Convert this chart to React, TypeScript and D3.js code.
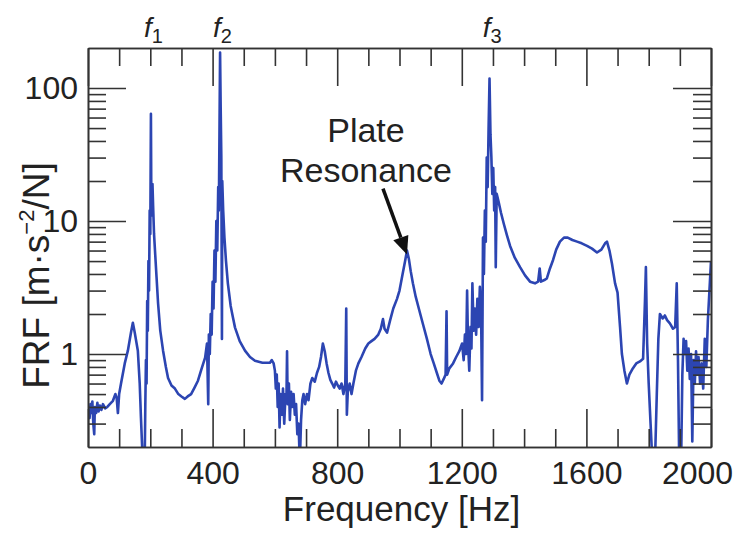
import React, { useEffect, useRef } from 'react';
import * as d3 from 'd3';

const freqHz = [
  0, 5, 8, 11, 14, 17, 20, 22, 26, 30, 34, 38, 43, 48, 55, 62, 70, 80, 88, 92, 96, 100, 106, 118, 128, 138, 144, 150, 160, 166, 170, 176, 182,
  184, 186, 188, 190, 192, 194, 196, 198, 200, 202, 203, 205, 207, 209, 212, 216, 220, 225, 232, 241, 250, 257, 268, 279, 290, 300, 311, 320, 331, 342, 353, 365, 376,
  382, 386, 388, 391, 394, 397, 400, 403, 406, 409, 412, 415, 418, 420, 422, 424, 426, 428, 430, 431, 434, 438, 443, 449, 458, 465, 472, 487, 504, 520, 536, 560, 584,
  590, 596, 600, 603, 606, 609, 612, 615, 618, 622, 626, 630, 634, 637, 639, 641, 645, 648, 652, 656, 660, 664, 668, 672, 676, 680, 684, 688, 692, 697, 703, 708,
  714, 720, 728, 735, 742, 748, 754, 760, 766, 772, 778, 784, 790, 796, 802, 808, 814, 820, 826, 829, 831, 834, 840, 846, 852, 860, 868, 878, 890, 900, 910, 920,
  932, 940, 947, 952, 960, 970, 980, 992, 1000, 1010, 1018, 1024, 1030, 1036, 1043, 1052, 1062, 1075, 1088, 1100, 1110, 1120, 1128, 1135, 1142, 1148, 1151, 1153,
  1160, 1172, 1182, 1192, 1201, 1206, 1210, 1214, 1217, 1220, 1224, 1228, 1231, 1234, 1238, 1242, 1246, 1250, 1254, 1258, 1262, 1265, 1268, 1271, 1274, 1277, 1280,
  1283, 1286, 1289, 1292, 1295, 1298, 1301, 1304, 1307, 1309, 1312, 1318, 1326, 1335, 1345, 1355, 1370, 1387, 1403, 1419, 1435, 1445, 1450, 1454, 1465, 1473, 1483,
  1493, 1503, 1515, 1528, 1540, 1555, 1570, 1585, 1602, 1618, 1634, 1648, 1660, 1666, 1674, 1682, 1692, 1700, 1708, 1714, 1722, 1730, 1738, 1749, 1760, 1772, 1782,
  1788, 1791, 1795, 1800, 1806, 1812, 1820, 1826, 1831, 1836, 1845, 1852, 1859, 1868, 1878, 1885, 1890, 1894, 1898, 1904, 1908, 1912, 1916, 1920, 1924, 1928, 1932,
  1936, 1940, 1944, 1948, 1952, 1956, 1960, 1965, 1970, 1975, 1980, 1985, 1990, 1995, 2000,
];
const frf = [
  0.39, 0.33, 0.42, 0.36, 0.44, 0.3, 0.25, 0.4, 0.36, 0.43, 0.37, 0.41, 0.38, 0.42, 0.39, 0.4, 0.42, 0.445, 0.5, 0.47, 0.36, 0.5, 0.6, 0.85, 1.06, 1.45, 1.72, 1.45, 1.06, 0.6, 0.33, 0.15, 0.15,
  0.42, 0.9, 0.6, 2.5, 1.5, 5, 3, 12, 8, 64, 20, 11, 19, 13, 8, 5.5, 3.8, 2.4, 1.5, 1.06, 0.8, 0.66, 0.58, 0.55, 0.5, 0.48, 0.46, 0.48, 0.5, 0.56, 0.63, 0.78, 0.94,
  1.2, 0.42, 1.4, 1.0, 2.0, 1.4, 3.5, 2.2, 6, 3.5, 10, 6, 18, 12, 45, 185, 70, 30, 1.3, 20, 12, 7.5, 5.0, 3.4, 2.3, 1.9, 1.58, 1.25, 1.06, 0.95, 0.89, 0.86, 0.86,
  0.9, 0.85, 0.75, 0.55, 0.7, 0.4, 0.6, 0.28, 0.5, 0.35, 0.55, 0.3, 0.5, 0.45, 1.05, 0.42, 0.6, 0.32, 0.52, 0.4, 0.5, 0.35, 0.42, 0.25, 0.3, 0.15, 0.32, 0.45, 0.5, 0.42, 0.5, 0.45,
  0.6, 0.66, 0.62, 0.72, 0.8, 0.95, 1.2, 1.05, 0.85, 0.72, 0.64, 0.6, 0.56, 0.62, 0.58, 0.55, 0.6, 0.5, 0.6, 2.2, 0.35, 0.52, 0.6, 0.5, 0.6, 0.75, 0.85, 0.95, 1.1, 1.2, 1.25, 1.3,
  1.4, 1.55, 1.83, 1.55, 1.45, 1.8, 2.2, 2.6, 3.0, 4.0, 5.0, 6.0, 5.2, 4.2, 3.4, 2.7, 2.2, 1.69, 1.3, 1.0, 0.85, 0.72, 0.63, 0.6, 0.65, 0.7, 2.1, 0.7,
  0.78, 0.85, 0.95, 1.05, 1.2, 0.9, 1.4, 1.0, 3.0, 1.2, 0.75, 1.6, 1.1, 3.4, 1.5, 2.2, 1.4, 2.6, 1.6, 3.2, 2.0, 0.45, 7.5, 4, 12, 7, 30,
  18, 50, 118, 45, 30, 16, 25, 12, 18, 4.5, 16, 14, 11.5, 9.5, 7.8, 6.5, 5.3, 4.5, 3.9, 3.5, 3.4, 3.5, 4.4, 3.5, 3.6, 3.7, 4.4,
  5.1, 6.1, 7.0, 7.5, 7.5, 7.2, 7.0, 6.8, 6.5, 6.2, 5.8, 6.1, 6.8, 7.0, 6.0, 4.8, 3.4, 2.9, 1.6, 1.0, 0.75, 0.6, 0.7, 0.78, 0.85, 0.88, 0.92,
  2.5, 4.5, 1.2, 0.6, 0.3, 0.15, 0.15, 0.5, 1.3, 2.0, 1.85, 1.95, 1.8, 1.7, 1.55, 1.6, 3.4, 0.9, 0.15, 0.15, 0.7, 1.3, 1.0, 1.25, 0.75, 1.1, 0.65,
  1.0, 0.22, 0.9, 0.6, 1.05, 0.7, 0.95, 0.6, 0.85, 0.55, 1.3, 0.8, 1.8, 3.0, 5.0,
];

const xTicks = [0, 400, 800, 1200, 1600, 2000];
const xMinorTicks = [100, 200, 300, 500, 600, 700, 900, 1000, 1100, 1300, 1400, 1500, 1700, 1800, 1900];
const yTicks = [1, 10, 100];
const yMinorTicks = [0.3, 0.4, 0.5, 0.6, 0.7, 0.8, 0.9, 2, 3, 4, 5, 6, 7, 8, 9, 20, 30, 40, 50, 60, 70, 80, 90];

// mode labels above the peaks
const modeNames = ['1', '2', '3'];
const modeFreqs = [202, 424, 1290];

// annotated plate resonance
const plateFreq = 1024;
const plateFrf = 5.6;

const FONT = "'Liberation Sans', Arial, Helvetica, sans-serif";

const App = () => {
  const svgRef = useRef<SVGSVGElement>(null);

  useEffect(() => {
    const svg = d3.select(svgRef.current);
    svg.selectAll('*').remove();

    const left = 88, right = 711, top = 48, bottom = 447;
    const major = 38, minor = 18;

    const x = d3.scaleLinear().domain([0, 2000]).range([left, right]);
    const y = d3.scaleLog().domain([0.2, 200]).range([bottom, top]);

    // clip for the trace
    svg.append('defs').append('clipPath').attr('id', 'plot-clip')
      .append('rect')
      .attr('x', left).attr('y', top)
      .attr('width', right - left).attr('height', bottom - top);

    const points = freqHz.map((f, i) => [f, frf[i]] as [number, number]);
    const line = d3.line<[number, number]>()
      .x(d => x(d[0]))
      .y(d => y(Math.max(d[1], 0.12)));

    svg.append('path')
      .datum(points)
      .attr('clip-path', 'url(#plot-clip)')
      .attr('fill', 'none')
      .attr('stroke', '#2c45b2')
      .attr('stroke-width', 2.6)
      .attr('stroke-linejoin', 'round')
      .attr('d', line);

    // axes: ticks point inward on all four sides
    const styleAxis = (g: any) => {
      g.select('.domain').attr('stroke', '#333').attr('stroke-width', 1.6);
      g.selectAll('.tick line').attr('stroke', '#333').attr('stroke-width', 1.6);
      g.selectAll('text')
        .attr('fill', '#222')
        .style('font-family', FONT)
        .style('font-size', '32px');
    };

    const xAxis = svg.append('g')
      .attr('transform', `translate(0,${bottom})`)
      .call(d3.axisBottom(x).tickValues(xTicks).tickSizeInner(-major).tickSizeOuter(0).tickPadding(14).tickFormat(d3.format('d')))
      .call(styleAxis);
    // keep the last label inside the frame, as in the original
    xAxis.selectAll('.tick text').filter((d: any) => d === 2000).attr('dx', -14);

    svg.append('g')
      .attr('transform', `translate(0,${bottom})`)
      .call(d3.axisBottom(x).tickValues(xMinorTicks).tickSizeInner(-minor).tickSizeOuter(0).tickFormat(() => ''))
      .call(styleAxis);
    svg.append('g')
      .attr('transform', `translate(0,${top})`)
      .call(d3.axisTop(x).tickValues(xTicks).tickSizeInner(-major).tickSizeOuter(0).tickFormat(() => ''))
      .call(styleAxis);
    svg.append('g')
      .attr('transform', `translate(0,${top})`)
      .call(d3.axisTop(x).tickValues(xMinorTicks).tickSizeInner(-minor).tickSizeOuter(0).tickFormat(() => ''))
      .call(styleAxis);

    svg.append('g')
      .attr('transform', `translate(${left},0)`)
      .call(d3.axisLeft(y).tickValues(yTicks).tickSizeInner(-major).tickSizeOuter(0).tickPadding(10).tickFormat(d3.format('d')))
      .call(styleAxis);
    svg.append('g')
      .attr('transform', `translate(${left},0)`)
      .call(d3.axisLeft(y).tickValues(yMinorTicks).tickSizeInner(-minor).tickSizeOuter(0).tickFormat(() => ''))
      .call(styleAxis);
    svg.append('g')
      .attr('transform', `translate(${right},0)`)
      .call(d3.axisRight(y).tickValues(yTicks).tickSizeInner(-major).tickSizeOuter(0).tickFormat(() => ''))
      .call(styleAxis);
    svg.append('g')
      .attr('transform', `translate(${right},0)`)
      .call(d3.axisRight(y).tickValues(yMinorTicks).tickSizeInner(-minor).tickSizeOuter(0).tickFormat(() => ''))
      .call(styleAxis);

    // axis titles
    svg.append('text')
      .attr('x', (left + right) / 2 + 2)
      .attr('y', 521)
      .attr('text-anchor', 'middle')
      .attr('fill', '#222')
      .style('font-family', FONT)
      .style('font-size', '35px')
      .text('Frequency [Hz]');

    const yTitle = svg.append('text')
      .attr('transform', `translate(49,${(top + bottom) / 2 + 28}) rotate(-90)`)
      .attr('text-anchor', 'middle')
      .attr('fill', '#222')
      .style('font-family', FONT)
      .style('font-size', '37px');
    yTitle.append('tspan').text('FRF [m·s');
    yTitle.append('tspan').attr('dy', -15).style('font-size', '22px').text('−2');
    yTitle.append('tspan').attr('dy', 15).text('/N]');

    // mode labels f1, f2, f3
    modeNames.forEach((name, i) => {
      const t = svg.append('text')
        .attr('x', x(modeFreqs[i]) - 7)
        .attr('y', 37)
        .attr('fill', '#222')
        .style('font-family', FONT)
        .style('font-size', '28px')
        .style('font-style', 'italic');
      t.append('tspan').text('f');
      t.append('tspan').attr('dy', 6).style('font-size', '20px').style('font-style', 'normal').text(name);
    });

    // plate resonance annotation
    const tipX = x(plateFreq);
    const tipY = y(plateFrf);
    svg.append('text')
      .attr('x', tipX - 41)
      .attr('y', 142)
      .attr('text-anchor', 'middle')
      .attr('fill', '#222')
      .style('font-family', FONT)
      .style('font-size', '34px')
      .text('Plate');
    svg.append('text')
      .attr('x', tipX - 41)
      .attr('y', 182)
      .attr('text-anchor', 'middle')
      .attr('fill', '#222')
      .style('font-family', FONT)
      .style('font-size', '34px')
      .text('Resonance');

    const sx = tipX - 24, sy = tipY - 66;
    const ang = Math.atan2(tipY - sy, tipX - sx);
    const headLen = 18, headW = 8;
    const bx = tipX - headLen * Math.cos(ang), by = tipY - headLen * Math.sin(ang);
    svg.append('line')
      .attr('x1', sx).attr('y1', sy)
      .attr('x2', bx).attr('y2', by)
      .attr('stroke', '#111')
      .attr('stroke-width', 3.5);
    svg.append('path')
      .attr('d', `M${tipX},${tipY} L${bx + headW * Math.sin(ang)},${by - headW * Math.cos(ang)} L${bx - headW * Math.sin(ang)},${by + headW * Math.cos(ang)} Z`)
      .attr('fill', '#111');
  }, []);

  return (
    <svg
      ref={svgRef}
      width={742}
      height={537}
      style={{ position: 'absolute', left: 0, top: 0, background: '#fff' }}
    />
  );
};

export default App;
